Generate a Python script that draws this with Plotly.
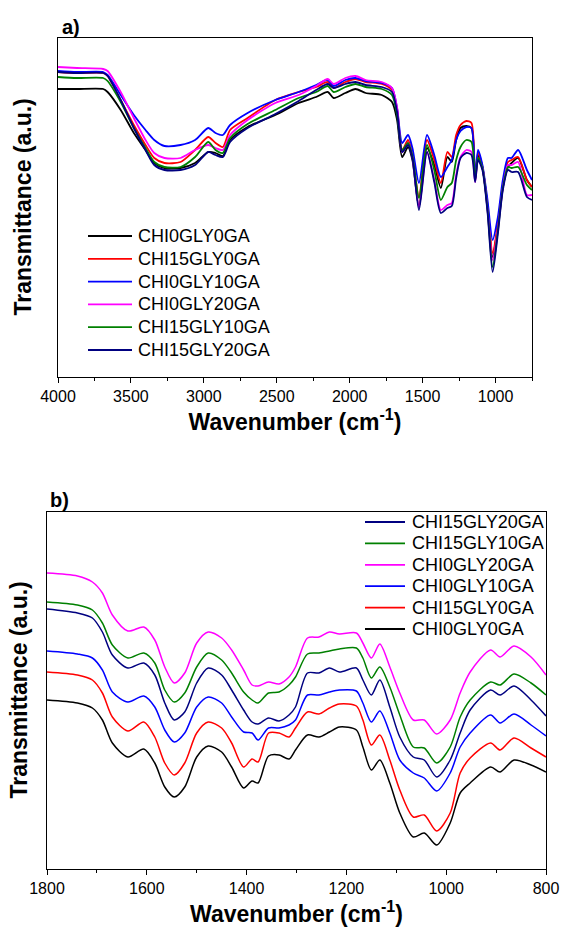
import plotly.graph_objects as go

W, H = 562, 930
FONT = "Liberation Sans, Arial, sans-serif"

names = ["CHI0GLY0GA", "CHI15GLY0GA", "CHI0GLY10GA", "CHI0GLY20GA", "CHI15GLY10GA", "CHI15GLY20GA"]
colors = ["#000000", "#ff0000", "#0000ff", "#ff00ff", "#008000", "#000080"]

# ---------------- panel a) full range ----------------
wn_a = [4000, 3870, 3690, 3660, 3570, 3480, 3400, 3340, 3270, 3160,
        3060, 2970, 2920, 2870, 2820, 2700, 2510, 2350, 2230, 2150,
        2110, 2030, 1960, 1890, 1780, 1710, 1675, 1640, 1600, 1570,
        1525, 1470, 1420, 1375, 1330, 1300, 1270, 1240, 1200, 1165,
        1140, 1120, 1090, 1055, 1020, 985, 950, 915, 890, 845,
        785, 750]
a_chi0gly0ga = [288, 288, 288, 285, 267, 244, 227, 214, 209, 209,
                214, 225, 224, 221, 237, 250, 262, 274, 280, 285,
                279, 284, 288, 284, 282, 275, 257, 220, 230, 217,
                170, 229, 212, 189, 220, 215, 237, 249, 251, 249,
                197, 222, 210, 170, 120, 150, 190, 210, 214, 219,
                197, 190]
a_chi15gly0ga = [305, 304, 304, 301, 277, 252, 232, 219, 214, 215,
                 227, 240, 234, 230, 247, 259, 277, 285, 290, 295,
                 289, 295, 298, 295, 293, 287, 267, 227, 237, 222,
                 180, 237, 217, 194, 225, 220, 242, 252, 256, 254,
                 197, 225, 210, 172, 124, 152, 192, 215, 217, 220,
                 197, 190]
a_chi0gly10ga = [306, 305, 305, 302, 282, 262, 247, 237, 231, 232,
                 237, 249, 244, 242, 252, 264, 277, 285, 292, 297,
                 291, 297, 299, 296, 294, 289, 269, 234, 242, 229,
                 194, 242, 222, 200, 210, 217, 237, 246, 250, 249,
                 199, 227, 212, 177, 137, 159, 197, 219, 219, 227,
                 207, 197]
a_chi0gly20ga = [310, 309, 308, 306, 285, 259, 237, 224, 219, 219,
                 227, 232, 229, 227, 242, 257, 274, 282, 291, 298,
                 293, 299, 301, 297, 295, 289, 269, 225, 234, 220,
                 170, 225, 197, 167, 172, 174, 202, 220, 227, 225,
                 195, 217, 209, 167, 117, 147, 189, 212, 212, 215,
                 182, 182]
a_chi15gly10ga = [300, 299, 299, 296, 275, 249, 229, 215, 210, 210,
                  220, 235, 227, 224, 239, 253, 267, 279, 285, 291,
                  285, 290, 293, 290, 288, 282, 262, 227, 234, 221,
                  179, 232, 207, 177, 190, 194, 217, 230, 237, 235,
                  197, 219, 209, 167, 110, 145, 189, 210, 209, 210,
                  192, 187]
a_chi15gly20ga = [305, 304, 304, 301, 277, 249, 227, 212, 207, 207,
                  212, 225, 222, 220, 235, 249, 263, 276, 287, 293,
                  289, 293, 295, 292, 290, 285, 265, 225, 232, 219,
                  167, 225, 195, 164, 169, 171, 199, 219, 224, 222,
                  195, 217, 207, 165, 105, 142, 187, 207, 205, 205,
                  180, 177]
series_a = [a_chi0gly0ga, a_chi15gly0ga, a_chi0gly10ga, a_chi0gly20ga, a_chi15gly10ga, a_chi15gly20ga]

# ---------------- panel b) fingerprint region ----------------
wn_b = [1800, 1739, 1709, 1689, 1669, 1638, 1606, 1584, 1564, 1545,
        1524, 1500, 1477, 1450, 1430, 1406, 1389, 1377, 1356, 1335,
        1315, 1302, 1278, 1255, 1234, 1214, 1180, 1167, 1150, 1133,
        1113, 1093, 1066, 1044, 1019, 992, 972, 952, 911, 892,
        864, 830, 800]
b_chi0gly0ga = [172, 169, 164, 152, 129, 115, 123, 109, 85, 75,
                85, 115, 126, 120, 105, 84, 91, 89, 116, 117,
                113, 122, 137, 135, 140, 145, 142, 125, 102, 112,
                89, 59, 35, 39, 27, 49, 79, 89, 105, 100,
                112, 107, 100]
b_chi15gly0ga = [200, 197, 192, 179, 155, 141, 150, 135, 109, 97,
                 109, 139, 150, 144, 129, 105, 113, 110, 139, 139,
                 135, 144, 160, 158, 164, 168, 166, 152, 127, 137,
                 112, 82, 55, 57, 41, 59, 99, 114, 129, 122,
                 134, 124, 115]
b_chi0gly10ga = [221, 218, 214, 202, 180, 170, 176, 165, 142, 130,
                 139, 165, 175, 169, 155, 140, 139, 132, 144, 144,
                 147, 152, 177, 177, 180, 182, 181, 169, 150, 161,
                 139, 112, 99, 94, 81, 99, 125, 139, 157, 149,
                 158, 147, 136]
b_chi0gly20ga = [299, 296, 290, 279, 257, 241, 245, 232, 205, 189,
                 199, 229, 240, 234, 222, 202, 187, 186, 190, 188,
                 195, 205, 234, 235, 240, 238, 239, 229, 214, 228,
                 205, 179, 152, 152, 138, 152, 179, 200, 222, 215,
                 226, 215, 197]
b_chi15gly10ga = [270, 267, 262, 249, 227, 214, 219, 209, 182, 170,
                  179, 205, 219, 212, 199, 180, 172, 169, 179, 180,
                  187, 195, 218, 219, 221, 223, 224, 214, 194, 205,
                  185, 157, 125, 124, 109, 125, 155, 172, 190, 187,
                  198, 189, 177]
b_chi15gly20ga = [263, 259, 254, 240, 217, 204, 209, 197, 169, 152,
                  160, 189, 204, 197, 182, 162, 150, 148, 154, 151,
                  157, 165, 199, 199, 204, 200, 204, 192, 177, 192,
                  165, 135, 115, 112, 95, 112, 139, 162, 182, 177,
                  186, 172, 156]
series_b = [b_chi0gly0ga, b_chi15gly0ga, b_chi0gly10ga, b_chi0gly20ga, b_chi15gly10ga, b_chi15gly20ga]

ticks_a = [4000, 3500, 3000, 2500, 2000, 1500, 1000]
ticks_b = [1800, 1600, 1400, 1200, 1000, 800]

fig = go.Figure()
for nm, col, ys in zip(names, colors, series_a):
    fig.add_trace(go.Scatter(x=wn_a, y=ys, mode="lines", name=nm, showlegend=False,
                             line=dict(color=col, width=1.8, shape="spline", smoothing=0.7),
                             xaxis="x", yaxis="y"))
for nm, col, ys in zip(names, colors, series_b):
    fig.add_trace(go.Scatter(x=wn_b, y=ys, mode="lines", name=nm, showlegend=False,
                             line=dict(color=col, width=1.5, shape="spline", smoothing=0.8),
                             xaxis="x2", yaxis="y2"))

def px_x(p):
    return p / W

def px_y(p):
    return 1 - p / H

# panel boxes (pixels)
A_L, A_R, A_T, A_B = 58, 532, 38, 377
B_L, B_R, B_T, B_B = 47, 546, 512, 869

tickfont = dict(family=FONT, size=16, color="#000")
titlefont = dict(family=FONT, size=23, color="#000")
common_x = dict(showline=True, linecolor="#000", linewidth=1.3, mirror=True, showgrid=False,
                zeroline=False, ticks="outside", ticklen=5, tickwidth=1.2, tickcolor="#000",
                tickfont=tickfont, automargin=False)
common_y = dict(showline=True, linecolor="#000", linewidth=1.3, mirror=True, showgrid=False,
                zeroline=False, showticklabels=False, ticks="", automargin=False)

fig.update_layout(
    width=W, height=H, margin=dict(l=0, r=0, t=0, b=0),
    paper_bgcolor="white", plot_bgcolor="white",
    xaxis=dict(common_x, domain=[px_x(A_L), px_x(A_R)], anchor="y", range=[4000, 750],
               tickvals=ticks_a,
               minor=dict(tickmode="linear", tick0=750, dtick=250, ticks="outside", ticklen=3,
                          tickcolor="#000", tickwidth=1),
               title=dict(text="<b>Wavenumber (cm<sup>-1</sup>)</b>", font=titlefont, standoff=6)),
    yaxis=dict(common_y, domain=[px_y(A_B), px_y(A_T)], anchor="x", range=[0, 339]),
    xaxis2=dict(common_x, domain=[px_x(B_L), px_x(B_R)], anchor="y2", range=[1800, 800],
                tickvals=ticks_b,
                minor=dict(tickmode="linear", tick0=800, dtick=100, ticks="outside", ticklen=3,
                           tickcolor="#000", tickwidth=1),
                title=dict(text="<b>Wavenumber (cm<sup>-1</sup>)</b>", font=titlefont, standoff=3)),
    yaxis2=dict(common_y, domain=[px_y(B_B), px_y(B_T)], anchor="x2", range=[872 - B_B, 872 - B_T]),
)

annotations = []
# y-axis titles
for xc, yc in [(22, (A_T + A_B) / 2), (18, (B_T + B_B) / 2)]:
    annotations.append(dict(text="<b>Transmittance (a.u.)</b>", xref="paper", yref="paper",
                            x=px_x(xc), y=px_y(yc), xanchor="center", yanchor="middle",
                            textangle=-90, showarrow=False, font=titlefont))
# panel labels
annotations.append(dict(text="<b>a)</b>", xref="paper", yref="paper", x=px_x(60), y=px_y(27),
                        xanchor="left", yanchor="middle", showarrow=False,
                        font=dict(family=FONT, size=20, color="#000")))
annotations.append(dict(text="<b>b)</b>", xref="paper", yref="paper", x=px_x(48), y=px_y(500),
                        xanchor="left", yanchor="middle", showarrow=False,
                        font=dict(family=FONT, size=20, color="#000")))

shapes = []
legfont = dict(family=FONT, size=18, color="#000")
# legend a (order as series)
for i, (nm, col) in enumerate(zip(names, colors)):
    yy = 236 + 22.8 * i
    shapes.append(dict(type="line", xref="paper", yref="paper", x0=px_x(88), x1=px_x(132),
                       y0=px_y(yy), y1=px_y(yy), line=dict(color=col, width=1.8)))
    annotations.append(dict(text=nm, xref="paper", yref="paper", x=px_x(136), y=px_y(yy),
                            xanchor="left", yanchor="middle", showarrow=False, font=legfont))
# legend b (reversed order)
for i, (nm, col) in enumerate(zip(names[::-1], colors[::-1])):
    yy = 522 + 21.4 * i
    shapes.append(dict(type="line", xref="paper", yref="paper", x0=px_x(365), x1=px_x(405),
                       y0=px_y(yy), y1=px_y(yy), line=dict(color=col, width=1.8)))
    annotations.append(dict(text=nm, xref="paper", yref="paper", x=px_x(410), y=px_y(yy),
                            xanchor="left", yanchor="middle", showarrow=False, font=legfont))

fig.update_layout(annotations=annotations, shapes=shapes)
fig.write_html("out.html", config={"displayModeBar": False},
               post_script="document.body.style.margin='0px';")
